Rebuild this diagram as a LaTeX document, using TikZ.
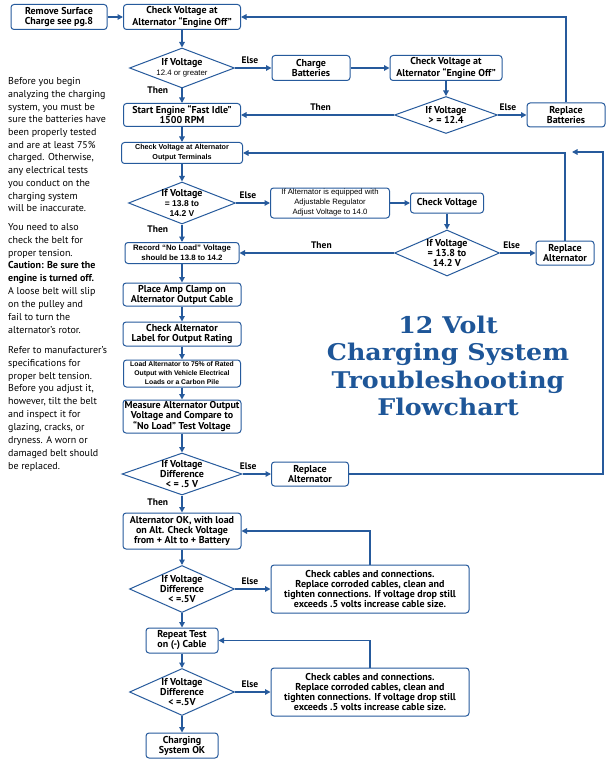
\documentclass[tikz,border=0pt]{standalone}
\usepackage{fontspec}
\setmainfont{PT Sans}
\newfontfamily\arl{Liberation Sans}
\newfontfamily\ttlfont[FakeStretch=1.1]{DejaVu Serif}
\usetikzlibrary{shapes.geometric,arrows.meta,positioning,calc}
\definecolor{flowblue}{RGB}{38,90,156}
\definecolor{titleblue}{RGB}{30,86,152}
\tikzset{
    box/.style={draw=flowblue, line width=1pt, fill=white, rounded corners=3pt, align=center,
                inner sep=1pt, font=\bfseries\fontsize{10}{10}\selectfont},
    boxA/.style={box, font=\arl\bfseries\fontsize{7.2}{10}\selectfont},
    dec/.style={draw=flowblue, line width=1pt, fill=white, diamond, inner sep=0pt},
    dtxt/.style={align=center, inner sep=0pt, font=\bfseries\fontsize{10}{10}\selectfont},
    flow/.style={draw=flowblue, line width=1.3pt, -{Triangle[length=5.5pt,width=5.5pt]}},
    lbl/.style={font=\bfseries\fontsize{9.5}{10}\selectfont},
    para/.style={align=left, inner sep=0pt, anchor=north west, font=\fontsize{10}{12.9}\selectfont},
    ttl/.style={align=center, text=titleblue, font=\ttlfont\bfseries\fontsize{23}{27.5}\selectfont},
}
\begin{document}
\begin{tikzpicture}[x=1pt, y=-1pt]
    \fill[white] (0,0) rectangle (614,762);
    \useasboundingbox (0,0) rectangle (614,762);

    % Side notes
    \node[para, font=\fontsize{10}{12.7}\selectfont] (note1) at (8,77.5) {Before you begin\\analyzing the charging\\system, you must be\\sure the batteries have\\been properly tested\\and are at least 75\%\\charged. Otherwise,\\any electrical tests\\you conduct on the\\charging system\\will be inaccurate.};
    \node[para] (note2) at (8,223) {You need to also\\check the belt for\\proper tension.\\\textbf{Caution: Be sure the}\\\textbf{engine is turned off.}\\A loose belt will slip\\on the pulley and\\fail to turn the\\alternator’s rotor.};
    \node[para] (note3) at (8,346) {Refer to manufacturer’s\\specifications for\\proper belt tension.\\Before you adjust it,\\however, tilt the belt\\and inspect it for\\glazing, cracks, or\\dryness. A worn or\\damaged belt should\\be replaced.};

    % Title
    \node[ttl] (title) at (448,366) {12 Volt\\Charging System\\Troubleshooting\\Flowchart};

    % Battery check
    \node[box, minimum width=96pt, minimum height=25pt] (remove) at (59,17) {Remove Surface\\Charge see pg.8};
    \node[box, minimum width=117pt, minimum height=25pt] (chk1) at (182,17) {Check Voltage at\\Alternator “Engine Off”};
    \node[dec, minimum width=105pt, minimum height=40pt,
          label={[dtxt]center:{If Voltage\\{\arl\mdseries\fontsize{7.8}{8}\selectfont 12.4 or greater}}}] (d1) at (182,68) {};
    \node[box, minimum width=78pt, minimum height=25pt] (charge) at (311,68) {Charge\\Batteries};
    \node[box, minimum width=112pt, minimum height=25pt] (chk2) at (446,68) {Check Voltage at\\Alternator “Engine Off”};
    \node[dec, minimum width=103pt, minimum height=37pt,
          label={[dtxt]center:{If Voltage\\> = 12.4}}] (d2) at (446,115) {};
    \node[box, minimum width=78pt, minimum height=24pt] (repBat) at (566,115) {Replace\\Batteries};
    \node[box, minimum width=117pt, minimum height=23pt] (start) at (182,115) {Start Engine “Fast Idle”\\1500 RPM};

    % Output terminals
    \node[boxA, minimum width=121pt, minimum height=21pt] (chkOut) at (182,153) {Check Voltage at Alternator\\Output Terminals};
    \node[dec, minimum width=107pt, minimum height=42pt,
          label={[dtxt]center:{If Voltage\\{\arl\fontsize{8.5}{10}\selectfont = 13.8 to}\\{\arl\fontsize{8.5}{10}\selectfont 14.2 V}}}] (d3) at (182,203) {};
    \node[box, minimum width=119pt, minimum height=30pt, font=\arl\fontsize{7.7}{10}\selectfont] (adj) at (330,203) {If Alternator is equipped with\\Adjustable Regulator\\Adjust Voltage to 14.0};
    \node[box, minimum width=73pt, minimum height=20pt] (chkV) at (447,203) {Check Voltage};
    \node[dec, minimum width=105pt, minimum height=46pt,
          label={[dtxt]center:{If Voltage\\= 13.8 to\\14.2 V}}] (d4) at (447,253) {};
    \node[box, minimum width=58pt, minimum height=24pt] (repAlt1) at (565,253) {Replace\\Alternator};
    \node[boxA, minimum width=114pt, minimum height=21pt, font=\arl\bfseries\fontsize{7.8}{10}\selectfont] (record) at (182,253) {Record “No Load” Voltage\\should be 13.8 to 14.2};

    % Load test
    \node[box, minimum width=118pt, minimum height=23pt] (amp) at (182,294.5) {Place Amp Clamp on\\Alternator Output Cable};
    \node[box, minimum width=118pt, minimum height=24pt] (rating) at (182,334) {Check Alternator\\Label for Output Rating};
    \node[boxA, minimum width=117pt, minimum height=27pt, font=\arl\bfseries\fontsize{6.8}{9}\selectfont] (load) at (182,373.5) {Load Alternator to 75\% of Rated\\Output with Vehicle Electrical\\Loads or a Carbon Pile};
    \node[box, minimum width=118pt, minimum height=33pt] (measure) at (182,416.5) {Measure Alternator Output\\Voltage and Compare to\\“No Load” Test Voltage};
    \node[dec, minimum width=120pt, minimum height=42pt,
          label={[dtxt]center:{If Voltage\\Difference\\< = .5 V}}] (d5) at (182,474) {};
    \node[box, minimum width=77pt, minimum height=24pt] (repAlt2) at (310,474) {Replace\\Alternator};
    \coordinate (back) at (603,152);
    \coordinate (backEnd) at (572,152);

    % Cable drop tests
    \node[box, minimum width=118pt, minimum height=36pt] (altOK) at (182,531) {Alternator OK, with load\\on Alt. Check Voltage\\from + Alt to + Battery};
    \node[dec, minimum width=105pt, minimum height=47pt,
          label={[dtxt]center:{If Voltage\\Difference\\< =.5V}}] (d6) at (182,589) {};
    \node[box, minimum width=198pt, minimum height=48pt] (cab1) at (370,589) {Check cables and connections.\\Replace corroded cables, clean and\\tighten connections. If voltage drop still\\exceeds .5 volts increase cable size.};
    \node[box, minimum width=72pt, minimum height=25pt] (rep) at (182,640.5) {Repeat Test\\on (-) Cable};
    \node[dec, minimum width=105pt, minimum height=47pt,
          label={[dtxt]center:{If Voltage\\Difference\\< =.5V}}] (d7) at (182,692) {};
    \node[box, minimum width=198pt, minimum height=48pt] (cab2) at (370,692) {Check cables and connections.\\Replace corroded cables, clean and\\tighten connections. If voltage drop still\\exceeds .5 volts increase cable size.};
    \node[box, minimum width=72pt, minimum height=25pt] (ok) at (182,745.5) {Charging\\System OK};

    % Connectors
    \draw[flow] (remove) -- (chk1);
    \draw[flow] (chk1) -- (d1);
    \draw[flow] (d1) -- node[lbl, above, pos=0.41] {Else} (charge);
    \draw[flow] (d1) -- node[lbl, left=10pt, pos=0.1] {Then} (start);
    \draw[flow] (charge) -- (chk2);
    \draw[flow] (chk2) -- (d2);
    \draw[flow] (d2) -- node[lbl, above, pos=0.35] {Else} (repBat);
    \draw[flow] (d2) -- node[lbl, above, pos=0.48] {Then} (start);
    \draw[flow] (repBat.north) |- (chk1.east);
    \draw[flow] (start) -- (chkOut);
    \draw[flow] (chkOut) -- (d3);
    \draw[flow] (d3) -- node[lbl, above, pos=0.35] {Else} (adj);
    \draw[flow] (d3) -- node[lbl, left=10pt, pos=0.28] {Then} (record);
    \draw[flow] (adj) -- (chkV);
    \draw[flow] (chkV) -- (d4);
    \draw[flow] (d4) -- node[lbl, above, pos=0.33] {Else} (repAlt1);
    \draw[flow] (d4) -- node[lbl, above, pos=0.47] {Then} (record);
    \draw[flow] (repAlt1.north) |- (chkOut.east);
    \draw[flow] (record) -- (amp);
    \draw[flow] (amp) -- (rating);
    \draw[flow] (rating) -- (load);
    \draw[flow] (load) -- (measure);
    \draw[flow] (measure) -- (d5);
    \draw[flow] (d5) -- node[lbl, above, pos=0.2] {Else} (repAlt2);
    \draw[flow] (repAlt2.east) -| (back) -- (backEnd);
    \draw[flow] (d5) -- node[lbl, left=10pt, pos=0.37] {Then} (altOK);
    \draw[flow] (altOK) -- (d6);
    \draw[flow] (d6) -- node[lbl, above, pos=0.42] {Else} (cab1);
    \draw[flow] (cab1.north) |- (altOK.east);
    \draw[flow] (d6) -- (rep);
    \draw[flow] (rep) -- (d7);
    \draw[flow] (d7) -- node[lbl, above, pos=0.42] {Else} (cab2);
    \draw[flow] (cab2.north) |- (rep.east);
    \draw[flow] (d7) -- (ok);
\end{tikzpicture}
\end{document}
